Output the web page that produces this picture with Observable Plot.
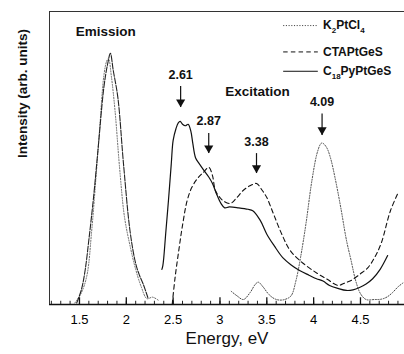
<!DOCTYPE html>
<html>
<head>
<meta charset="utf-8">
<script src="https://cdn.jsdelivr.net/npm/d3@7"></script>
<script src="https://cdn.jsdelivr.net/npm/@observablehq/plot@0.6"></script>
<style>
  body { margin: 0; background: #fff; }
  #chart svg { display: block; }
</style>
</head>
<body>
<div id="chart"></div>
<script>
// Emission band (all three samples overlap)
const emX = [1.47, 1.52, 1.56, 1.60, 1.65, 1.70, 1.76, 1.80, 1.83, 1.86, 1.91, 1.97, 2.04, 2.10, 2.14, 2.18, 2.23];
const emY = [0.5, 5, 11.6, 22, 36.5, 53.6, 74, 82, 85.7, 80, 70.6, 48, 25, 14, 10, 7, 2.4];
const emDotX = [1.45, 1.52, 1.58, 1.63, 1.68, 1.72, 1.76, 1.79, 1.81, 1.84, 1.88, 1.93, 1.98, 2.04, 2.10, 2.16, 2.22, 2.28, 2.34];
const emDotY = [0.5, 4, 10, 25, 45, 62, 78, 83, 84, 78, 66, 46, 30, 20, 12, 6, 2, 2.5, 1.5];

// Excitation: C18PyPtGeS (solid)
const solidX = [2.38, 2.39, 2.40, 2.42, 2.45, 2.48, 2.50, 2.53, 2.555, 2.575, 2.60, 2.63, 2.66, 2.69, 2.71, 2.74, 2.78, 2.83, 2.88, 2.92, 2.96, 3.01, 3.05, 3.10, 3.20, 3.30, 3.35, 3.43, 3.50, 3.58, 3.67, 3.76, 3.85, 3.95, 4.03, 4.10, 4.17, 4.26, 4.35, 4.42, 4.49, 4.56, 4.63, 4.71, 4.79];
const solidY = [12, 13.3, 16, 24, 35.5, 48, 56, 60, 62, 62.5, 61.5, 61, 61.5, 59, 55, 50, 48, 45.7, 43.5, 41.3, 38, 34.5, 33, 33.3, 33, 32.5, 32, 28.7, 24, 20, 16, 13.5, 11.6, 10, 8.8, 8, 6.5, 5.5, 4.8, 5, 5.8, 7, 8.8, 12, 16.7];

// Excitation: CTAPtGeS (dashed)
const dashX = [2.49, 2.52, 2.56, 2.60, 2.65, 2.70, 2.76, 2.82, 2.88, 2.92, 2.95, 3.00, 3.03, 3.11, 3.18, 3.25, 3.32, 3.39, 3.45, 3.50, 3.57, 3.66, 3.75, 3.89, 4.04, 4.15, 4.26, 4.33, 4.40, 4.50, 4.58, 4.65, 4.72, 4.82, 4.90];
const dashY = [0, 9, 18.4, 27, 35.5, 40, 43, 45, 46.8, 44, 39, 36.5, 35.5, 34.5, 36.5, 39, 40.5, 41.3, 39, 36.5, 31, 24, 18.4, 14, 10.6, 8.5, 6.5, 7.3, 8.2, 10.5, 12.6, 16, 20.8, 32, 38];

// Excitation: K2PtCl4 (dotted)
const dotX = [3.12, 3.18, 3.25, 3.32, 3.38, 3.41, 3.46, 3.52, 3.58, 3.64, 3.70, 3.76, 3.81, 3.86, 3.92, 3.98, 4.04, 4.08, 4.10, 4.14, 4.18, 4.23, 4.29, 4.35, 4.40, 4.45, 4.50, 4.56, 4.65, 4.72, 4.78, 4.84, 4.90, 4.96];
const dotY = [4.5, 3, 1.7, 4, 7, 7.6, 6, 3.5, 2, 1.5, 1.8, 3, 8, 16, 28, 42, 52, 55, 55, 53.5, 50, 43, 33, 22, 15, 8, 3.7, 1.7, 1.7, 1.8, 2.5, 4, 6, 7.5];

// Peak annotations
const peakLabels = ["2.61", "2.87", "3.38", "4.09"];
const peakX = [2.58, 2.88, 3.39, 4.09];
const peakTop = [74.4, 58.4, 51.5, 65];
const peakBottom = [67.2, 51.5, 44.7, 57.7];

// Legend
const legendNames = ["K_2PtCl_4", "CTAPtGeS", "C_18PyPtGeS"];
const legendY = [95.2, 86.2, 79.6];

// Axis ticks
const majorTicks = [1.5, 2, 2.5, 3, 3.5, 4, 4.5];
const minorTicks = d3.range(12, 50).map(d => d / 10);

const pts = (xs, ys) => xs.map((x, i) => ({x, y: ys[i]}));
const peaks = peakX.map((x, i) => ({x, label: peakLabels[i], top: peakTop[i], bottom: peakBottom[i]}));
const legend = legendNames.map((name, i) => ({name, y: legendY[i]}));

const dotted = {stroke: "#444", strokeWidth: 1, strokeDasharray: "1.1,1.6"};
const dashed = {stroke: "#111", strokeWidth: 1.1, strokeDasharray: "4.5,3.2"};
const solid = {stroke: "#111", strokeWidth: 1.2};
const legendStyles = [dotted, dashed, solid];

const font = "'Liberation Sans', Arial, sans-serif";

const chart = Plot.plot({
  width: 404,
  height: 354,
  marginLeft: 49,
  marginRight: 0,
  marginTop: 11,
  marginBottom: 50,
  style: {fontFamily: font, background: "#fff", overflow: "visible"},
  x: {domain: [1.18, 4.97]},
  y: {domain: [0, 100], axis: null},
  marks: [
    // frame
    Plot.ruleY([0], {stroke: "#111", strokeWidth: 1.3}),
    Plot.ruleY([100], {stroke: "#333", strokeWidth: 1}),
    Plot.ruleX([1.18], {stroke: "#333", strokeWidth: 1}),
    // ticks (inward)
    Plot.ruleX(minorTicks, {y1: 0, y2: 1.1, stroke: "#222", strokeWidth: 1}),
    Plot.ruleX(majorTicks, {y1: 0, y2: 2.3, stroke: "#111", strokeWidth: 1.3}),
    Plot.axisX({ticks: majorTicks, tickSize: 0, tickPadding: 10, fontSize: 13, label: null, tickFormat: d => String(d)}),
    // emission
    Plot.line(pts(emDotX, emDotY), {x: "x", y: "y", ...dotted, stroke: "#666", curve: "catmull-rom"}),
    Plot.line(pts(emX, emY), {x: "x", y: "y", stroke: "#222", strokeWidth: 1.1, strokeDasharray: "6,1.5", curve: "catmull-rom"}),
    // excitation
    Plot.line(pts(dotX, dotY), {x: "x", y: "y", ...dotted, curve: "catmull-rom"}),
    Plot.line(pts(dashX, dashY), {x: "x", y: "y", ...dashed, curve: "catmull-rom"}),
    Plot.line(pts(solidX, solidY), {x: "x", y: "y", ...solid, curve: "catmull-rom"}),
    // arrows
    Plot.ruleX(peaks, {x: "x", y1: "top", y2: "bottom", stroke: "#111", strokeWidth: 1.2}),
    Plot.dot(peaks, {x: "x", y: d => d.bottom + 1.9, symbol: "triangle", rotate: 180, r: 3.4, fill: "#111", stroke: "none"}),
    Plot.text(peaks, {x: "x", y: "top", text: "label", dy: -12, fontSize: 12.5, fontWeight: "bold", fill: "#111"}),
    // section labels
    Plot.text(["Emission"], {x: 1.78, y: 93, text: d => d, fontSize: 13.5, fontWeight: "bold", fill: "#111"}),
    Plot.text(["Excitation"], {x: 3.40, y: 72.7, text: d => d, fontSize: 13.5, fontWeight: "bold", fill: "#111"}),
    // legend
    ...legend.map((d, i) => Plot.ruleY([d], {y: "y", x1: 3.68, x2: 4.05, ...legendStyles[i], strokeWidth: 1})),
    Plot.text(legend, {y: "y", x: 4.10, text: "name", textAnchor: "start", fontSize: 12, fontWeight: "bold", fill: "#111", className: "legend-text"}),
    // axis titles
    Plot.text(["Intensity (arb. units)"], {frameAnchor: "left", text: d => d, rotate: -90, dx: -27, fontSize: 13.5, fontWeight: "bold", fill: "#111"}),
    Plot.text(["Energy, eV"], {frameAnchor: "bottom", text: d => d, dy: 39, fontSize: 17, fill: "#111"})
  ]
});

document.getElementById("chart").appendChild(chart);

// subscripts in legend labels
d3.select(chart).selectAll(".legend-text text").each(function() {
  const t = d3.select(this);
  const parts = t.text().split(/_(\d+)/);
  t.text(null);
  let sub = false;
  parts.forEach((p, i) => {
    if (i % 2 === 1) {
      t.append("tspan").attr("font-size", 8).attr("dy", 4).text(p);
      sub = true;
    } else if (p) {
      t.append("tspan").attr("dy", sub ? -4 : 0).text(p);
      sub = false;
    }
  });
});
</script>
</body>
</html>
